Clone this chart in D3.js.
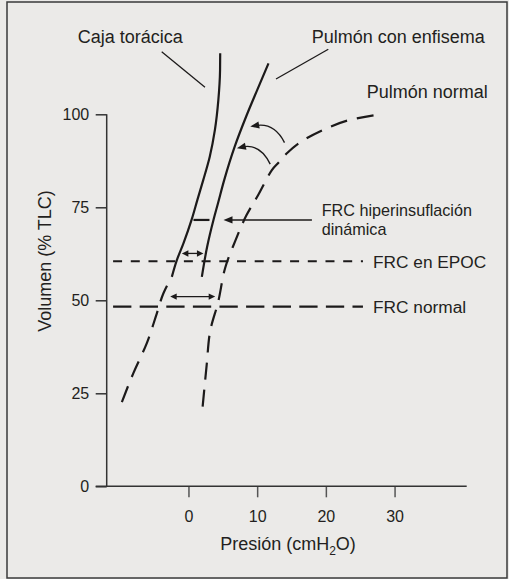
<!DOCTYPE html>
<html><head><meta charset="utf-8">
<script src="https://cdn.jsdelivr.net/npm/d3@7"></script>
<style>
html,body{margin:0;padding:0;background:#ebeae8;}
svg{display:block;}
text{font-family:"Liberation Sans",Arial,sans-serif;fill:#231f20;}
</style></head>
<body>
<script>
// ---------- data (pressure cmH2O, volume %TLC) ----------
const yTicks = [0, 25, 50, 75, 100];
const xTicks = [0, 10, 20, 30];

const chestWallSolid = [[4.62,116.4],[4.6,111.9],[4.35,103.8],[3.85,95.8],[3.1,88.6],[2.15,82.3],[1.3,77.0],[0.45,71.6],[-0.73,65.3],[-1.69,60.8],[-2.42,56.3]];
const chestWallDashed = [[-2.42,56.3],[-3.64,51.9],[-4.6,46.5],[-6.06,38.5],[-8.0,30.5],[-9.95,21.4]];
const emphysema = [[11.65,113.7],[10.0,106.5],[8.4,99.4],[6.73,91.3],[5.2,82.3],[4.3,76.1],[3.64,71.6],[2.72,64.4],[1.95,56.3]];
const normalLung = [[26.94,99.7],[23.1,98.3],[19.47,95.7],[16.27,92.5],[14.37,89.6],[13.06,86.9],[12.14,85.0],[10.15,78.3],[8.4,72.7],[6.8,65.9],[5.34,58.7],[4.33,49.6],[3.16,41.7],[2.65,32.6],[1.95,19.2]];

const frcLevels = [
  {label:"FRC en EPOC", v:60.5, from:-10.97, to:25.4, dash:"9,8.7"},
  {label:"FRC normal",  v:48.3, from:-10.97, to:25.4, dash:"18.3,8.3"}
];
const hyperDash = {from:0.73, to:3.06, v:71.6};
const hyperArrow = {from:17.97, to:5.1, v:71.6};
const doubleArrows = [{from:-0.96, to:2.18, v:62.6},{from:-2.66, to:3.89, v:51.0}];
const curvedArrows = [
  {tail:[13.98,92.4], ctrl:[12.48,97.9], tip:[8.99,96.7]},
  {tail:[11.9,86.6], ctrl:[10.44,92.3], tip:[7.05,90.9]}
];

// ---------- layout ----------
const W = 509, H = 579;
const svg = d3.select("body").append("svg").attr("width", W).attr("height", H);
svg.append("rect").attr("x",0).attr("y",0).attr("width",W).attr("height",H).attr("fill","#ebeae8");
svg.append("rect").attr("x",7).attr("y",2).attr("width",500).attr("height",576)
  .attr("fill","none").attr("stroke","#3a3a3a").attr("stroke-width",1.5);

const x = d3.scaleLinear().domain([-11.9, 40.5]).range([106.7, 466.7]);
const y = d3.scaleLinear().domain([0, 100]).range([486.3, 114.3]);
const ink = "#1c1a1a";

// axes
const gy = svg.append("g").attr("transform", `translate(${x(-11.9)},0)`)
  .call(d3.axisLeft(y).tickValues(yTicks).tickSize(11).tickPadding(6.5));
gy.select(".domain").remove();
gy.selectAll("line").attr("stroke","#333").attr("stroke-width",1.5);
gy.selectAll("text").attr("font-size",16).attr("font-family","Liberation Sans, Arial, sans-serif").attr("fill","#231f20");

const gx = svg.append("g").attr("transform", `translate(0,${y(0)})`)
  .call(d3.axisBottom(x).tickValues(xTicks).tickSize(11).tickPadding(13));
gx.select(".domain").remove();
gx.selectAll("line").attr("stroke","#555").attr("stroke-width",1.5);
gx.selectAll("text").attr("font-size",16).attr("font-family","Liberation Sans, Arial, sans-serif").attr("fill","#231f20");

svg.append("line").attr("x1",x(-11.9)).attr("x2",x(-11.9)).attr("y1",y(100)).attr("y2",y(0))
  .attr("stroke","#333").attr("stroke-width",1.5);
svg.append("line").attr("x1",x(-11.9)-11).attr("x2",x(40.5)).attr("y1",y(0)).attr("y2",y(0))
  .attr("stroke","#333").attr("stroke-width",1.5);

// axis titles
svg.append("text").attr("transform","translate(51,261) rotate(-90)").attr("text-anchor","middle")
  .attr("font-size",18).text("Volumen (% TLC)");
const xt = svg.append("text").attr("x",288).attr("y",550).attr("text-anchor","middle").attr("font-size",18);
xt.append("tspan").text("Presión (cmH");
xt.append("tspan").attr("dy",5).attr("font-size",12).text("2");
xt.append("tspan").attr("dy",-5).text("O)");

// curves
const line = d3.line().x(d => x(d[0])).y(d => y(d[1])).curve(d3.curveMonotoneY);
svg.append("path").attr("d", line(chestWallSolid)).attr("fill","none").attr("stroke",ink).attr("stroke-width",2.2);
svg.append("path").attr("d", line(chestWallDashed)).attr("fill","none").attr("stroke",ink).attr("stroke-width",2.2)
  .attr("stroke-dasharray","17,10").attr("stroke-dashoffset",17);
svg.append("path").attr("d", line(emphysema)).attr("fill","none").attr("stroke",ink).attr("stroke-width",2.2);
svg.append("path").attr("d", d3.line().x(d => x(d[0])).y(d => y(d[1])).curve(d3.curveCatmullRom.alpha(0.5))(normalLung))
  .attr("fill","none").attr("stroke",ink).attr("stroke-width",2.2).attr("stroke-dasharray","17,10");

// FRC horizontal lines
frcLevels.forEach(f => {
  svg.append("line").attr("x1",x(f.from)).attr("x2",x(f.to)).attr("y1",y(f.v)).attr("y2",y(f.v))
    .attr("stroke",ink).attr("stroke-width",2.2).attr("stroke-dasharray",f.dash);
  svg.append("text").attr("x",x(f.to)+10).attr("y",y(f.v)+6.5).attr("font-size",17.3).text(f.label);
});

// hyperinflation marker and arrow
svg.append("line").attr("x1",x(hyperDash.from)).attr("x2",x(hyperDash.to)).attr("y1",y(hyperDash.v)).attr("y2",y(hyperDash.v))
  .attr("stroke",ink).attr("stroke-width",2.2);

function head(tipX, tipY, ang, len, hw){
  const bx = tipX - len*Math.cos(ang), by = tipY - len*Math.sin(ang);
  const px = -Math.sin(ang)*hw, py = Math.cos(ang)*hw;
  svg.append("path").attr("d",`M${tipX},${tipY}L${bx+px},${by+py}L${bx-px},${by-py}Z`).attr("fill",ink);
}
{
  const x1 = x(hyperArrow.from), x2 = x(hyperArrow.to), yy = y(hyperArrow.v);
  svg.append("line").attr("x1",x1).attr("x2",x2+6).attr("y1",yy).attr("y2",yy).attr("stroke",ink).attr("stroke-width",1.4);
  head(x2, yy, Math.PI, 9, 3.6);
}
doubleArrows.forEach(a => {
  const x1 = x(a.from), x2 = x(a.to), yy = y(a.v);
  svg.append("line").attr("x1",x1+4).attr("x2",x2-4).attr("y1",yy).attr("y2",yy).attr("stroke",ink).attr("stroke-width",1.3);
  head(x1, yy, Math.PI, 6.5, 3.2);
  head(x2, yy, 0, 6.5, 3.2);
});
curvedArrows.forEach(a => {
  const t = [x(a.tail[0]), y(a.tail[1])], c = [x(a.ctrl[0]), y(a.ctrl[1])], p = [x(a.tip[0]), y(a.tip[1])];
  const ang = Math.atan2(p[1]-c[1], p[0]-c[0]);
  const e = [p[0]-5*Math.cos(ang), p[1]-5*Math.sin(ang)];
  svg.append("path").attr("d",`M${t[0]},${t[1]}Q${c[0]},${c[1]} ${e[0]},${e[1]}`).attr("fill","none").attr("stroke",ink).attr("stroke-width",1.4);
  head(p[0], p[1], ang, 9, 3.6);
});

// labels with leader lines
svg.append("text").attr("x",77.7).attr("y",43).attr("font-size",18).text("Caja torácica");
svg.append("line").attr("x1",161.7).attr("y1",51.7).attr("x2",205).attr("y2",87.3).attr("stroke",ink).attr("stroke-width",1.3);
svg.append("text").attr("x",311.7).attr("y",43).attr("font-size",18).text("Pulmón con enfisema");
svg.append("line").attr("x1",328.3).attr("y1",49.3).attr("x2",276).attr("y2",79).attr("stroke",ink).attr("stroke-width",1.3);
svg.append("text").attr("x",366.7).attr("y",98).attr("font-size",18).text("Pulmón normal");
svg.append("text").attr("x",321.7).attr("y",216.2).attr("font-size",16.2).text("FRC hiperinsuflación");
svg.append("text").attr("x",321.7).attr("y",234.6).attr("font-size",16.2).text("dinámica");
</script>
</body></html>
